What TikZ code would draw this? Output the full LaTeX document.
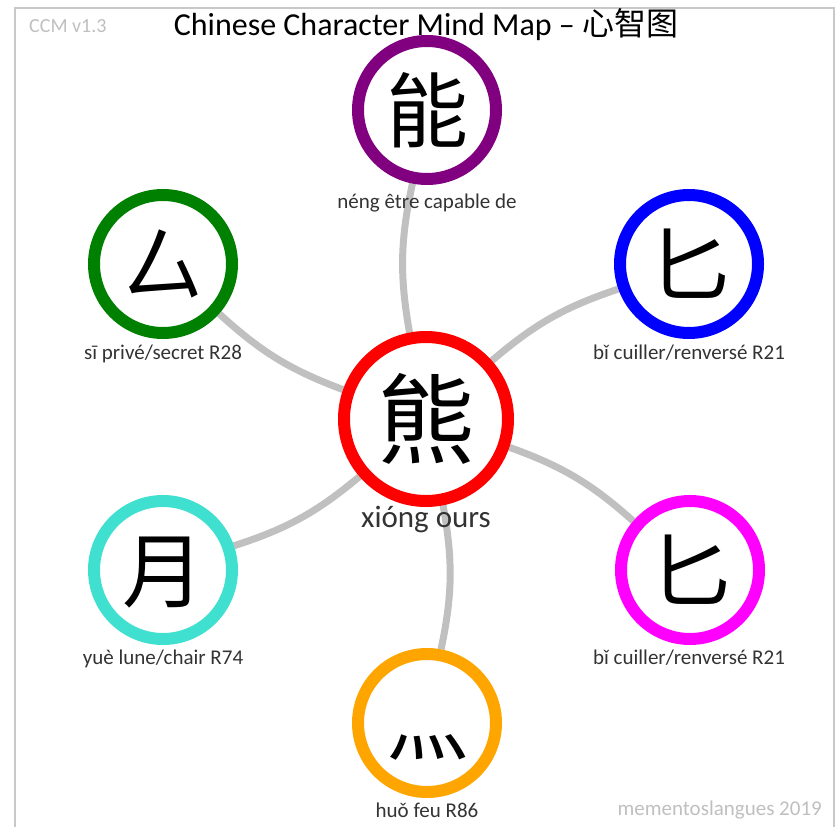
\documentclass[tikz,border=0pt]{standalone}
\usepackage{fontspec}
\setmainfont{Carlito}
\newfontfamily\cjk{Noto Sans CJK SC}
\usetikzlibrary{backgrounds}
\definecolor{framegray}{HTML}{C8C8C8}
\definecolor{conngray}{HTML}{C0C0C0}
\definecolor{lightgray}{HTML}{BFBFBF}
\definecolor{labelgray}{HTML}{333333}
\definecolor{turq}{HTML}{40E0D0}
\definecolor{orng}{HTML}{FFA500}
\definecolor{purp}{HTML}{800080}
\definecolor{grn}{HTML}{008000}
\definecolor{mag}{HTML}{FF00FF}
\definecolor{blu}{HTML}{0000FF}
\definecolor{rd}{HTML}{FF0000}
\begin{document}
\begin{tikzpicture}[x=1pt,y=-1pt,
  hub/.style={circle,draw=#1,line width=12pt,fill=white,inner sep=0pt,
    minimum size=138pt,font=\cjk\fontsize{82}{82}\selectfont,
    text height=72pt,text depth=10pt},
  bighub/.style={hub=#1,minimum size=164pt,font=\cjk\fontsize{98}{98}\selectfont,
    text height=86pt,text depth=12pt},
  lbl/.style={anchor=base,inner sep=0pt,text=labelgray,font=\fontsize{21}{21}\selectfont},
  conn/.style={draw=conngray,line width=7pt},
  note/.style={inner sep=0pt,text=lightgray,font=\fontsize{20}{20}\selectfont}]
\useasboundingbox (0,0) rectangle (838,827);
\draw[framegray,line width=2pt] (15,827) -- (15,8) -- (834,8) -- (834,827);
% title and notes
\node[anchor=base,inner sep=0pt,font=\fontsize{32}{32}\selectfont] (title) at (426,35)
  {Chinese Character Mind Map – {\cjk 心智图}};
\node[note,anchor=base west] (ver) at (29,32) {CCM v1.3};
\node[note,anchor=base east,font=\fontsize{21}{21}\selectfont] (credit) at (822,815) {mementoslangues 2019};
% circles
\node[bighub=rd] (C) at (426,419) {熊};
\node[hub=purp] (N) at (427,110) {能};
\node[hub=grn] (G) at (163,264) {厶};
\node[hub=blu] (B) at (689,264) {匕};
\node[hub=turq] (T) at (163,570) {月};
\node[hub=mag] (M) at (690,570) {匕};
\node[hub=orng] (O) at (427,723) {灬};
% connectors
\begin{scope}[on background layer]
  \draw[conn] (C) to[bend left=11] (N);
  \draw[conn] (C) to[bend left=11] (G);
  \draw[conn] (C) to[bend left=11] (B);
  \draw[conn] (C) to[bend left=11] (T);
  \draw[conn] (C) to[bend left=11] (M);
  \draw[conn] (C) to[bend left=11] (O);
\end{scope}
% labels
\node[lbl,font=\fontsize{31}{31}\selectfont] (lC) at (426,527) {xióng ours};
\node[lbl] (lN) at (427,208) {néng être capable de};
\node[lbl] (lG) at (163,359) {sī privé/secret R28};
\node[lbl] (lB) at (689,359) {bǐ cuiller/renversé R21};
\node[lbl] (lT) at (163,664) {yuè lune/chair R74};
\node[lbl] (lM) at (689,664) {bǐ cuiller/renversé R21};
\node[lbl] (lO) at (427,817) {huǒ feu R86};
\end{tikzpicture}
\end{document}
